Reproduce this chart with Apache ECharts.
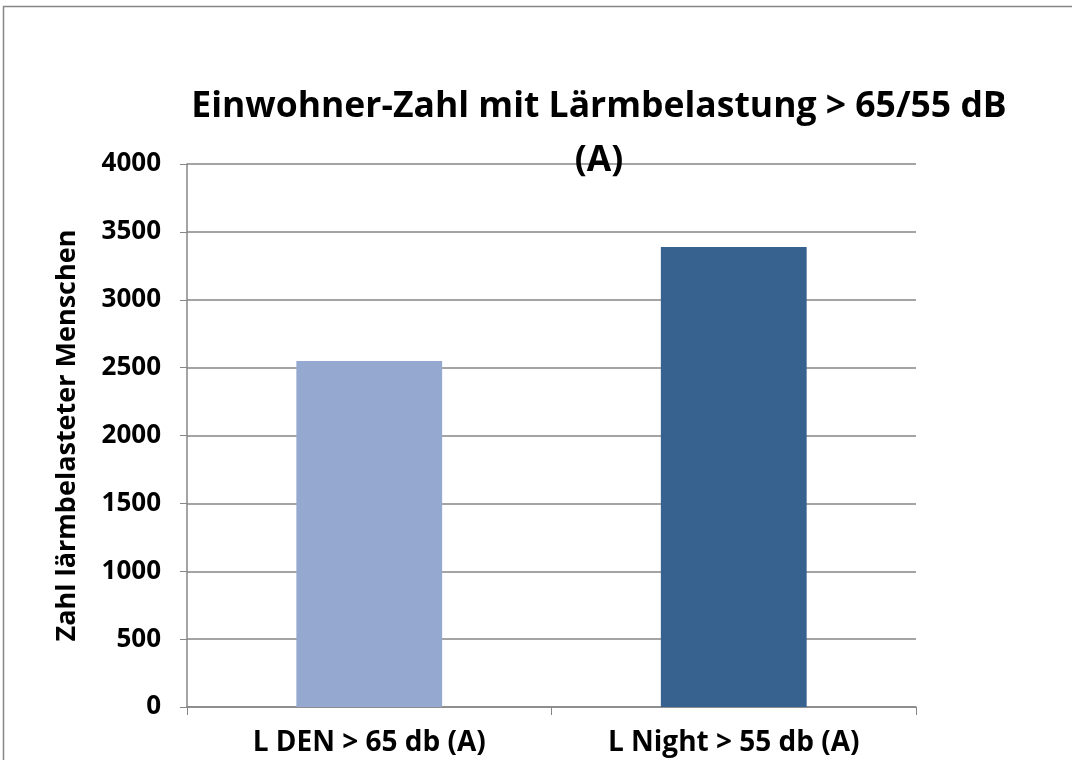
<!DOCTYPE html>
<html>
<head>
<meta charset="utf-8">
<script src="https://cdn.jsdelivr.net/npm/echarts@6/dist/echarts.min.js"></script>
<style>
  html, body { margin: 0; padding: 0; background: #fff; }
  #main { width: 1072px; height: 760px; }
</style>
</head>
<body>
<div id="main"></div>
<script>
// Lärmbelastung: Einwohner
var categories = ['L DEN > 65 db (A)', 'L Night > 55 db (A)']
var values = [2549, 3389]
var barColors = ['#95a9d0', '#37618f']
var yTicks = [0, 500, 1000, 1500, 2000, 2500, 3000, 3500, 4000]

var font = 'Open Sans'
var myChart = echarts.init(document.getElementById('main'))
myChart.setOption({
  animation: false,
  title: {
    text: 'Einwohner-Zahl mit Lärmbelastung > 65/55 dB\n(A)',
    left: 594,
    top: 75,
    textAlign: 'center',
    textStyle: {
      fontFamily: font,
      fontWeight: 'bold',
      fontSize: 35.5,
      lineHeight: 54,
      color: '#000'
    }
  },
  graphic: [{
    type: 'rect',
    shape: { x: 3.5, y: 6.5, width: 1080, height: 800 },
    style: { fill: 'none', stroke: '#868686', lineWidth: 1.5 },
    silent: true
  }],
  grid: { left: 187, right: 156, top: 164, bottom: 53 },
  xAxis: {
    type: 'category',
    data: categories,
    axisLine: { lineStyle: { color: '#868686', width: 1.5 } },
    axisTick: { show: true, length: 8, lineStyle: { color: '#868686' } },
    axisLabel: {
      margin: 22,
      fontFamily: font,
      fontWeight: 'bold',
      fontSize: 28,
      color: '#000'
    }
  },
  yAxis: {
    type: 'value',
    min: 0,
    max: yTicks[yTicks.length - 1],
    interval: 500,
    name: 'Zahl lärmbelasteter Menschen',
    nameLocation: 'middle',
    nameGap: 106,
    nameTextStyle: {
      fontFamily: font,
      fontWeight: 'bold',
      fontSize: 27,
      color: '#000'
    },
    axisLine: { show: true, lineStyle: { color: '#868686', width: 1.5 } },
    axisTick: { show: true, length: 7, lineStyle: { color: '#868686' } },
    splitLine: { lineStyle: { color: '#868686', width: 1.5 } },
    axisLabel: {
      margin: 26,
      fontFamily: font,
      fontWeight: 'bold',
      fontSize: 26,
      color: '#000',
      formatter: function (v) { return String(v) }
    }
  },
  series: [{
    type: 'bar',
    barWidth: '40%',
    data: values.map(function (v, i) {
      return { value: v, itemStyle: { color: barColors[i] } }
    })
  }]
})
</script>
</body>
</html>
